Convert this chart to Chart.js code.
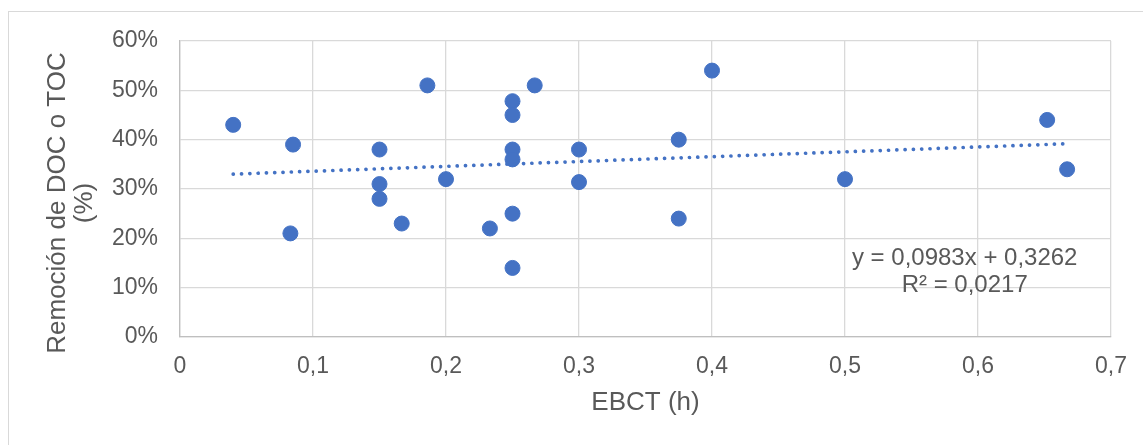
<!DOCTYPE html>
<html>
<head>
<meta charset="utf-8">
<script src="https://cdn.jsdelivr.net/npm/chart.js@4.4.1/dist/chart.umd.min.js"></script>
<style>
  body { margin: 0; overflow: hidden; background: #fff; }
  #wrap { position: relative; width: 1143px; height: 445px; overflow: hidden; }
  #marco { position: absolute; left: 8px; top: 11px; width: 1200px; height: 500px; border: 1.3px solid #d9d9d9; }
  #grafik { position: absolute; left: 0; top: 0; }
</style>
</head>
<body>
<div id="wrap">
  <div id="marco"></div>
  <canvas id="grafik" width="1143" height="445"></canvas>
</div>
<script>
// EBCT (h) y remoción de DOC o TOC (fracción)
const ebct = [0.04, 0.085, 0.083, 0.15, 0.15, 0.15, 0.1667, 0.186, 0.2, 0.233,
  0.25, 0.25, 0.25, 0.25, 0.25, 0.25, 0.2667, 0.3, 0.3, 0.375, 0.375, 0.4, 0.5, 0.652, 0.667];
const remocion = [0.43, 0.39, 0.21, 0.38, 0.31, 0.28, 0.23, 0.51, 0.32, 0.22,
  0.478, 0.45, 0.38, 0.36, 0.25, 0.14, 0.51, 0.38, 0.314, 0.40, 0.24, 0.54, 0.32, 0.44, 0.34];

// tendencia lineal: y = m x + b
const pendiente = 0.0983;
const intercepto = 0.3262;
const textoEcuacion = ['y = 0,0983x + 0,3262', 'R² = 0,0217'];

const tituloX = 'EBCT (h)';
const tituloY = ['Remoción de DOC o TOC', '(%)'];

const xMin = 0, xMax = 0.7, xPaso = 0.1;
const yMin = 0, yMax = 0.6, yPaso = 0.1;

const azul = '#4472C4';
const gris = '#595959';
const fuente = 'Liberation Sans, Arial, sans-serif';

const puntos = ebct.map((x, i) => ({ x: x, y: remocion[i] }));
const xIni = Math.min(...ebct);
const xFin = Math.max(...ebct);
const tendencia = [
  { x: xIni, y: pendiente * xIni + intercepto },
  { x: xFin, y: pendiente * xFin + intercepto }
];

const textosExtra = {
  id: 'textosExtra',
  afterDraw(chart) {
    const ctx = chart.ctx;
    const sx = chart.scales.x;
    const sy = chart.scales.y;
    ctx.save();
    ctx.fillStyle = gris;
    ctx.textAlign = 'center';
    ctx.textBaseline = 'middle';
    // ecuación de la tendencia
    ctx.font = '24px ' + fuente;
    ctx.fillText(textoEcuacion[0], sx.getPixelForValue(0.59), sy.getPixelForValue(0.16));
    ctx.fillText(textoEcuacion[1], sx.getPixelForValue(0.59), sy.getPixelForValue(0.105));
    // título del eje Y
    ctx.font = '26px ' + fuente;
    ctx.translate(57.5, 203);
    ctx.rotate(-Math.PI / 2);
    tituloY.forEach((t, i) => ctx.fillText(t, 0, i * 27));
    ctx.restore();
  }
};

const grafik = document.getElementById('grafik').getContext('2d');
window.myChart = new Chart(grafik, {
  type: 'scatter',
  data: {
    datasets: [{
      label: 'Tendencia',
      type: 'line',
      data: tendencia,
      borderColor: azul,
      borderWidth: 3.7,
      borderDash: [0.1, 8.2],
      borderCapStyle: 'round',
      pointRadius: 0,
      fill: false,
      order: 0
    }, {
      label: 'Remoción',
      data: puntos,
      backgroundColor: azul,
      borderColor: azul,
      pointRadius: 7.5,
      pointHoverRadius: 7.5,
      order: 1
    }]
  },
  options: {
    responsive: false,
    animation: false,
    layout: { padding: { left: 0, top: 41, right: 30, bottom: 0 } },
    plugins: {
      legend: { display: false },
      tooltip: { enabled: false }
    },
    scales: {
      x: {
        type: 'linear',
        min: xMin,
        max: xMax,
        afterFit: (s) => { s.height = 108; },
        border: { color: '#bfbfbf', width: 1.3 },
        grid: { color: '#d9d9d9', lineWidth: 1.3, drawTicks: false },
        ticks: {
          stepSize: xPaso,
          padding: 16,
          color: gris,
          font: { family: fuente, size: 23 },
          callback: (v) => v === 0 ? '0' : v.toFixed(1).replace('.', ',')
        },
        title: {
          display: true,
          text: tituloX,
          color: gris,
          font: { family: fuente, size: 26 },
          padding: { top: 0, bottom: 27 }
        }
      },
      y: {
        min: yMin,
        max: yMax,
        afterFit: (s) => { s.width = 180; },
        border: { color: '#bfbfbf', width: 1.3 },
        grid: { color: '#d9d9d9', lineWidth: 1.3, drawTicks: false },
        ticks: {
          stepSize: yPaso,
          padding: 22,
          color: gris,
          font: { family: fuente, size: 23 },
          callback: (v) => Math.round(v * 100) + '%'
        }
      }
    }
  },
  plugins: [textosExtra]
});
</script>
</body>
</html>
